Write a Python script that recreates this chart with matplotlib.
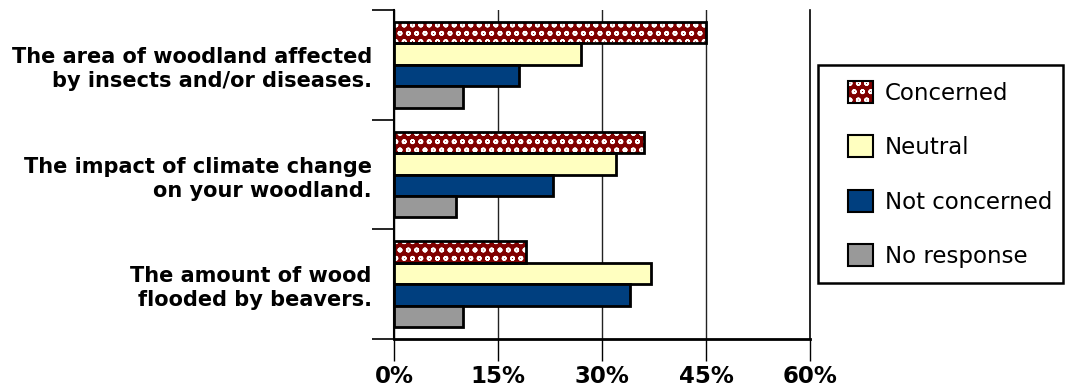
import matplotlib
matplotlib.use("Agg")
import matplotlib.pyplot as plt
import numpy as np
from matplotlib.patches import Patch, Rectangle
from matplotlib.legend_handler import HandlerTuple

plt.rcParams["hatch.linewidth"] = 1.2

categories = ["The area of woodland affected\nby insects and/or diseases.",
              "The impact of climate change\non your woodland.",
              "The amount of wood\nflooded by beavers."]
series = ["Concerned", "Neutral", "Not concerned", "No response"]
concerned = [45, 36, 19]
neutral = [27, 32, 37]
not_concerned = [18, 23, 34]
no_response = [10, 9, 10]
xticks = [0, 15, 30, 45, 60]
xticklabels = ["0%", "15%", "30%", "45%", "60%"]

values = [concerned, neutral, not_concerned, no_response]
colors = ["#800000", "#FFFFC0", "#003F7F", "#999999"]

W, H = 1067, 390
fig = plt.figure(figsize=(W/100, H/100), dpi=100)
ax = fig.add_axes([394/W, 51/H, 416/W, 329/H])

y = np.arange(len(categories))
h = 0.196
for i, (vals, col) in enumerate(zip(values, colors)):
    pos = y + (i - 1.5) * h
    if i == 0:
        ax.barh(pos, vals, height=h, color=col, edgecolor="white", hatch="oo", linewidth=0, zorder=3)
        ax.barh(pos, vals, height=h, fill=False, edgecolor="black", linewidth=2, zorder=4)
    else:
        ax.barh(pos, vals, height=h, color=col, edgecolor="black", linewidth=2, zorder=3)

ax.set_ylim(2.5, -0.5)
ax.set_xlim(0, 60)
ax.set_xticks(xticks)
ax.set_xticklabels(xticklabels, fontsize=16.5, fontweight="bold")
ax.tick_params(axis="x", length=16, width=1, pad=3, direction="out")
ax.set_yticks(y)
ax.set_yticklabels(categories, fontsize=15, fontweight="bold", linespacing=1.25)
ax.tick_params(axis="y", which="major", length=0, pad=16)
ax.set_yticks([-0.5, 0.5, 1.5, 2.5], minor=True)
ax.tick_params(axis="y", which="minor", length=16, width=1.2)
ax.grid(axis="x", color="#222222", linewidth=1, zorder=0)
ax.axvline(60, color="black", linewidth=1.2, clip_on=False, zorder=1)
for s in ["top", "right"]:
    ax.spines[s].set_visible(False)
ax.spines["left"].set_linewidth(1.5)
ax.spines["bottom"].set_linewidth(2)

# legend frame
fig.patches.append(Rectangle((818/W, 1 - 283/H), (1063 - 818)/W, (283 - 65)/H,
                             transform=fig.transFigure, fill=False, edgecolor="black",
                             linewidth=1.8, figure=fig))

handles = [(Patch(facecolor=colors[0], edgecolor="white", hatch="oo", linewidth=0),
            Patch(fill=False, edgecolor="black", linewidth=1.5)),
           Patch(facecolor=colors[1], edgecolor="black", linewidth=1.5),
           Patch(facecolor=colors[2], edgecolor="black", linewidth=1.5),
           Patch(facecolor=colors[3], edgecolor="black", linewidth=1.5)]
leg = fig.legend(handles, series, loc="upper left", bbox_to_anchor=(848/W, 1 - 81/H),
                 fontsize=16.5, frameon=False,
                 handlelength=1.09, handleheight=1.09, labelspacing=1.34, borderpad=0,
                 handletextpad=0.52, borderaxespad=0,
                 handler_map={tuple: HandlerTuple(ndivide=1, pad=0)})

fig.savefig("out.png", dpi=100)
